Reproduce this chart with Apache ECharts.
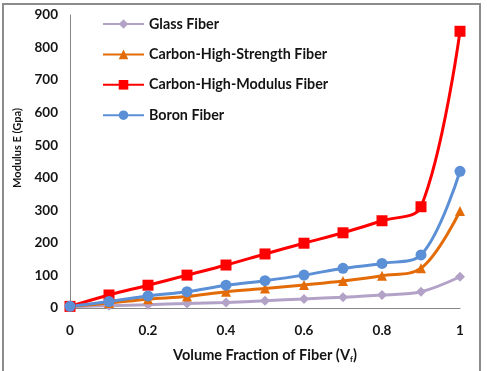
<!DOCTYPE html>
<html>
<head>
<meta charset="utf-8">
<script src="https://cdn.jsdelivr.net/npm/echarts@6/dist/echarts.min.js"></script>
<style>
  body { margin: 0; background: #fff; }
  #frame { position: absolute; left: 2px; top: 3px; width: 479px; height: 370px; border: 2px solid #8c8c8c; box-sizing: border-box; }
  #chart { position: absolute; left: 0; top: 0; width: 487px; height: 371px; }
</style>
</head>
<body>
<div id="frame"></div>
<div id="chart"></div>
<script>
  // data
  var fraction = [0, 0.1, 0.2, 0.3, 0.4, 0.5, 0.6, 0.7, 0.8, 0.9, 1];
  var glass = [4, 7, 10, 14, 17, 22, 28, 33, 40, 50, 96];
  var carbonHS = [5, 15, 27, 35, 50, 60, 71, 83, 99, 122, 298];
  var carbonHM = [5, 40, 70, 101, 132, 166, 199, 231, 268, 311, 850];
  var boron = [5, 20, 37, 50, 70, 84, 101, 122, 137, 163, 420];

  var font = 'Lato, "Liberation Sans", sans-serif';
  var ink = '#141414';

  function pairs(vals) {
    return vals.map(function (v, i) { return [fraction[i], v]; });
  }

  function makeSeries(name, vals, color, symbol, size) {
    return {
      name: name,
      type: 'line',
      data: pairs(vals),
      smooth: 0.35,
      symbol: symbol,
      symbolSize: size,
      showAllSymbol: true,
      lineStyle: { color: color, width: 3 },
      itemStyle: { color: color },
      emphasis: { disabled: true }
    };
  }

  var chartDom = document.getElementById('chart');
  var myChart = echarts.init(chartDom);
  var option = {
    animation: false,
    textStyle: { fontFamily: font },
    grid: { left: 70, right: 27, top: 15, bottom: 63 },
    legend: {
      orient: 'vertical',
      left: 97,
      top: 12,
      itemWidth: 41,
      itemHeight: 12,
      itemGap: 16.4,
      textStyle: { fontFamily: font, fontWeight: 'bold', fontSize: 14.3, color: ink },
      data: ['Glass Fiber', 'Carbon-High-Strength Fiber', 'Carbon-High-Modulus Fiber', 'Boron Fiber']
    },
    graphic: [{
      type: 'text',
      x: 17,
      y: 148,
      rotation: Math.PI / 2,
      style: {
        text: 'Modulus E (Gpa)',
        fontFamily: font, fontWeight: 'bold', fontSize: 11, fill: ink,
        align: 'center', verticalAlign: 'middle'
      }
    }],
    xAxis: {
      type: 'value',
      min: 0,
      max: 1,
      interval: 0.2,
      name: 'Volume Fraction of Fiber (V{sub|f})',
      nameLocation: 'middle',
      nameGap: 40,
      nameTextStyle: {
        fontFamily: font, fontWeight: 'bold', fontSize: 14.5, color: ink,
        rich: { sub: { fontFamily: font, fontWeight: 'bold', fontSize: 8, verticalAlign: 'bottom', padding: [7, 0, 0, 0] } }
      },
      axisLine: { lineStyle: { color: '#868686', width: 1 } },
      axisTick: { show: false },
      splitLine: { show: false },
      axisLabel: { fontFamily: font, fontWeight: 'bold', fontSize: 13.5, color: ink, margin: 16 }
    },
    yAxis: {
      type: 'value',
      min: 0,
      max: 900,
      interval: 100,
      axisLine: { show: true, lineStyle: { color: '#868686', width: 1 } },
      axisTick: { show: false },
      splitLine: { show: false },
      axisLabel: { fontFamily: font, fontWeight: 'bold', fontSize: 13.5, color: ink, margin: 12 }
    },
    series: [
      makeSeries('Glass Fiber', glass, '#b3a2c7', 'diamond', 10),
      makeSeries('Carbon-High-Strength Fiber', carbonHS, '#e36c09', 'triangle', 10),
      makeSeries('Carbon-High-Modulus Fiber', carbonHM, '#ff0000', 'rect', 11),
      makeSeries('Boron Fiber', boron, '#5b8fd6', 'circle', 11)
    ]
  };
  option && myChart.setOption(option);
</script>
</body>
</html>
